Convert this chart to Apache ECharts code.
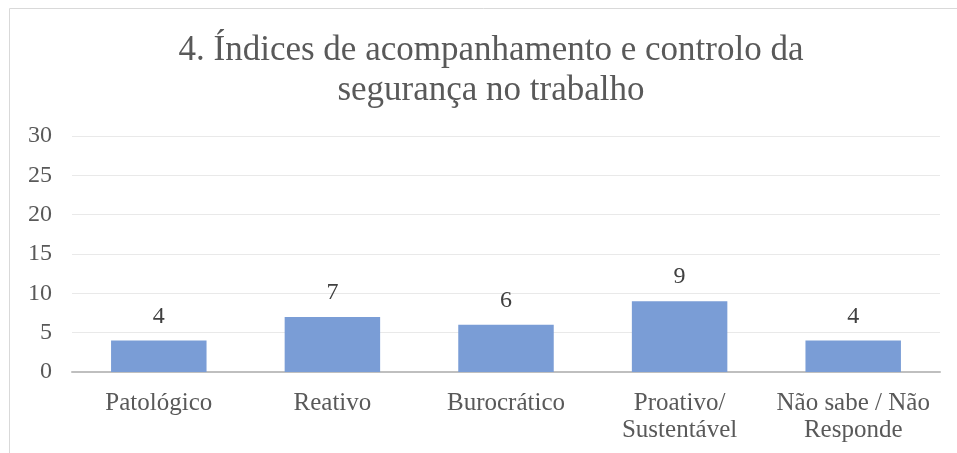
<!DOCTYPE html>
<html><head><meta charset="utf-8">
<script src="https://cdn.jsdelivr.net/npm/echarts@6/dist/echarts.min.js"></script>
<style>html,body{margin:0;padding:0;background:#fff}#c{width:957px;height:453px}</style>
</head><body><div id="c"></div>
<script>
const titleText = '4. Índices de acompanhamento e controlo da\nsegurança no trabalho';
const categories = ['Patológico', 'Reativo', 'Burocrático', 'Proativo/\nSustentável', 'Não sabe / Não\nResponde'];
const values = [4, 7, 6, 9, 4];
const yTicks = [0, 5, 10, 15, 20, 25, 30];

const font = '"Liberation Serif", "Times New Roman", serif';
const chart = echarts.init(document.getElementById('c'));
chart.setOption({
  animation: false,
  graphic: [{type: 'rect', shape: {x: 9.5, y: 8.5, width: 970, height: 470}, style: {fill: 'none', stroke: '#d9d9d9', lineWidth: 1}}],
  title: {
    text: titleText, left: 486, top: 26, textAlign: 'center',
    textStyle: {fontFamily: font, fontSize: 35, fontWeight: 'normal', color: '#595959', lineHeight: 40}
  },
  grid: {left: 72, right: 17, top: 136, bottom: 81},
  xAxis: {
    type: 'category', data: categories,
    axisLine: {lineStyle: {color: '#bfbfbf', width: 2}},
    axisTick: {show: false},
    axisLabel: {interval: 0, fontFamily: font, fontSize: 25, color: '#595959', lineHeight: 27, margin: 18}
  },
  yAxis: {
    type: 'value', min: yTicks[0], max: yTicks[yTicks.length - 1], interval: 5,
    axisLine: {show: false}, axisTick: {show: false},
    splitLine: {lineStyle: {color: '#e9e9e9', width: 1}},
    axisLabel: {fontFamily: font, fontSize: 24, color: '#595959', margin: 20}
  },
  series: [{
    type: 'bar', data: values, barWidth: '55%',
    itemStyle: {color: '#7a9dd6'},
    label: {show: true, position: 'top', distance: 12, fontFamily: font, fontSize: 24, color: '#404040'}
  }]
});
</script></body></html>
